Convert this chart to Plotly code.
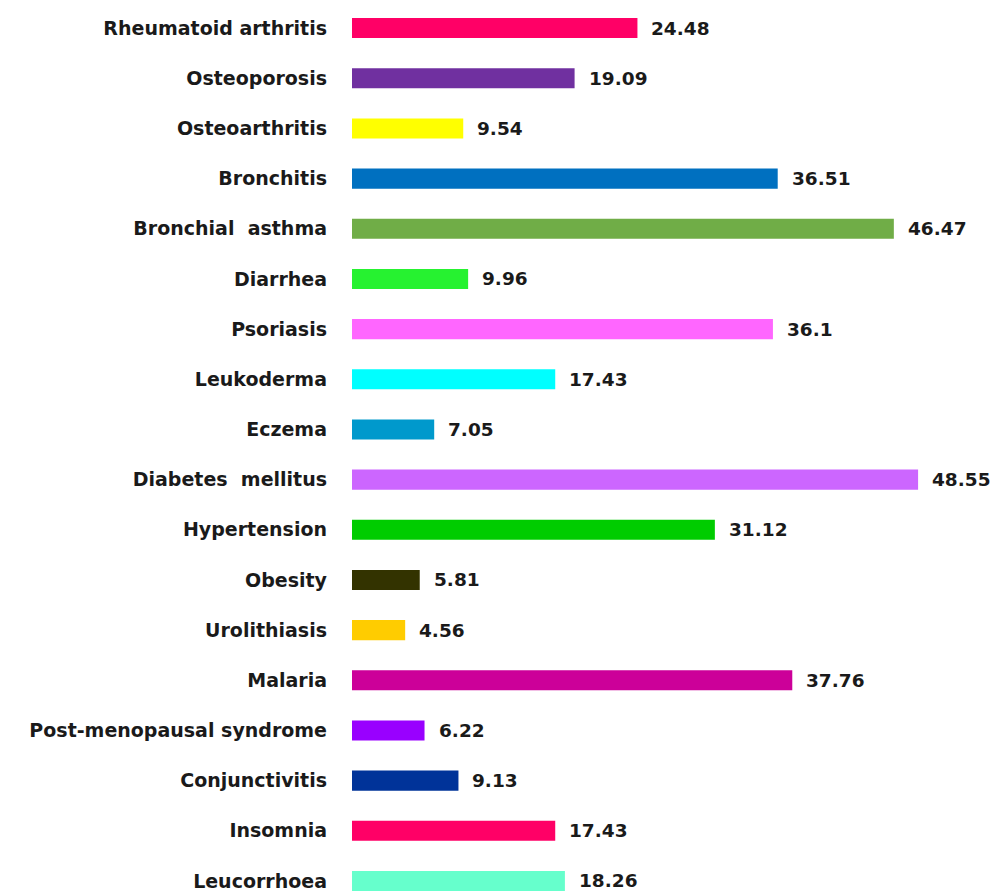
import plotly.graph_objects as go

categories = ["Rheumatoid arthritis", "Osteoporosis", "Osteoarthritis", "Bronchitis",
              "Bronchial  asthma", "Diarrhea", "Psoriasis", "Leukoderma", "Eczema",
              "Diabetes  mellitus", "Hypertension", "Obesity", "Urolithiasis", "Malaria",
              "Post-menopausal syndrome", "Conjunctivitis", "Insomnia", "Leucorrhoea"]
values = [24.48, 19.09, 9.54, 36.51, 46.47, 9.96, 36.1, 17.43, 7.05, 48.55, 31.12,
          5.81, 4.56, 37.76, 6.22, 9.13, 17.43, 18.26]
value_labels = ["24.48", "19.09", "9.54", "36.51", "46.47", "9.96", "36.1", "17.43", "7.05",
                "48.55", "31.12", "5.81", "4.56", "37.76", "6.22", "9.13", "17.43", "18.26"]
colors = ["#FF0066", "#7030A0", "#FFFF00", "#0070C0", "#70AD47", "#26F230", "#FF66FF",
          "#00FFFF", "#0099CC", "#CC66FF", "#00CC00", "#333300", "#FFCC00", "#CC0099",
          "#9900FF", "#003399", "#FF0066", "#66FFCC"]

FONT = "DejaVu Sans"

fig = go.Figure(go.Bar(
    x=values, y=categories, orientation="h",
    marker=dict(color=colors, line=dict(width=0)),
    width=0.4, hoverinfo="skip",
))

for cat, v, lab in zip(categories, values, value_labels):
    fig.add_annotation(x=v, y=cat, text=lab, showarrow=False, xanchor="left",
                       xshift=12, font=dict(family=FONT, size=18.5, color="#1a1a1a", weight="bold"))

fig.update_layout(
    width=995, height=891,
    margin=dict(l=352, r=0, t=3, b=0),
    plot_bgcolor="white", paper_bgcolor="white",
    showlegend=False,
    xaxis=dict(range=[0, 643 / 11.66], visible=False, fixedrange=True),
    yaxis=dict(categoryorder="array", categoryarray=categories,
               range=[17.2, -0.5], showgrid=False, zeroline=False, showline=False,
               ticks="", ticklabelstandoff=24,
               tickfont=dict(family=FONT, size=19, color="#1a1a1a", weight="bold")),
)

fig.write_html("out.html")
